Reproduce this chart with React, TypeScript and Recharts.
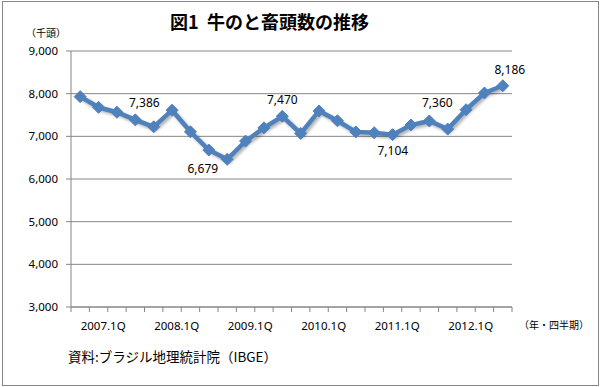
import React from "react";
import {
  ComposedChart,
  Line,
  XAxis,
  YAxis,
  CartesianGrid,
  LabelList,
} from "recharts";

const QUARTERS = [
  "2007.1Q", "2007.2Q", "2007.3Q", "2007.4Q",
  "2008.1Q", "2008.2Q", "2008.3Q", "2008.4Q",
  "2009.1Q", "2009.2Q", "2009.3Q", "2009.4Q",
  "2010.1Q", "2010.2Q", "2010.3Q", "2010.4Q",
  "2011.1Q", "2011.2Q", "2011.3Q", "2011.4Q",
  "2012.1Q", "2012.2Q", "2012.3Q", "2012.4Q",
];

// 牛のと畜頭数（千頭）
const HEAD_COUNT = [
  7930, 7680, 7565, 7386,
  7223, 7613, 7106, 6679,
  6460, 6888, 7199, 7470,
  7068, 7595, 7365, 7104,
  7085, 7040, 7265, 7360,
  7170, 7624, 8016, 8186,
];

const LABELED_QUARTERS = ["2007.4Q", "2008.4Q", "2009.4Q", "2010.4Q", "2011.4Q", "2012.4Q"];
const X_TICK_LABELS = ["2007.1Q", "2008.1Q", "2009.1Q", "2010.1Q", "2011.1Q", "2012.1Q"];
const Y_TICKS = [3000, 4000, 5000, 6000, 7000, 8000, 9000];

const data = QUARTERS.map((q, i) => ({ q, value: HEAD_COUNT[i] }));

const W = 602;
const H = 387;
const MARGIN = { top: 51, right: 90, bottom: 50, left: 11 };
const Y_AXIS_W = 60;
const X_AXIS_H = 30;
const PLOT_W = W - MARGIN.left - Y_AXIS_W - MARGIN.right;
const PLOT_BOTTOM = H - MARGIN.bottom - X_AXIS_H;
const STEP = PLOT_W / QUARTERS.length;

const BLUE = "#4F81BD";
const AXIS_GRAY = "#868686";
const FONT = "'Noto Sans', 'Noto Sans CJK JP', sans-serif";
const JP_FONT = "'Noto Sans CJK JP', sans-serif";

// where each data label sits relative to its point
const LABEL_OFFSET: Record<string, [number, number]> = {
  "2007.4Q": [9, -17],
  "2008.4Q": [-6, 18],
  "2009.4Q": [0, -17],
  "2010.4Q": [37, 19],
  "2011.4Q": [8, -18],
  "2012.4Q": [7, -16],
};

const XTick = (props: any) => {
  const { x, payload } = props;
  const idx = QUARTERS.indexOf(payload.value);
  const left = x - STEP / 2;
  return (
    <g>
      <line x1={left} x2={left} y1={PLOT_BOTTOM} y2={PLOT_BOTTOM + 5} stroke={AXIS_GRAY} />
      {idx === QUARTERS.length - 1 && (
        <line x1={x + STEP / 2} x2={x + STEP / 2} y1={PLOT_BOTTOM} y2={PLOT_BOTTOM + 5} stroke={AXIS_GRAY} />
      )}
      {X_TICK_LABELS.includes(payload.value) && (
        <text
          x={x + 23}
          y={PLOT_BOTTOM + 18}
          textAnchor="middle"
          dominantBaseline="central"
          fontSize={11.5}
          fontFamily={FONT}
          fill="#000"
        >
          {payload.value}
        </text>
      )}
    </g>
  );
};

const Diamond = (props: any) => {
  const { cx, cy, index } = props;
  if (cx == null || cy == null) return <g key={index} />;
  const r = 6;
  return (
    <polygon
      key={index}
      points={`${cx},${cy - r} ${cx + r},${cy} ${cx},${cy + r} ${cx - r},${cy}`}
      fill={BLUE}
      stroke={BLUE}
    />
  );
};

const PointLabel = (props: any) => {
  const { x, y, value, index } = props;
  const q = QUARTERS[index];
  if (!LABELED_QUARTERS.includes(q)) return null;
  const [dx, dy] = LABEL_OFFSET[q] || [0, -16];
  return (
    <text
      x={x + dx}
      y={y + dy}
      textAnchor="middle"
      dominantBaseline="central"
      fontSize={12}
      fontFamily={FONT}
      fill="#000"
    >
      {Number(value).toLocaleString("en-US")}
    </text>
  );
};

export default function App() {
  return (
    <div
      style={{
        position: "fixed",
        left: 0,
        top: 0,
        width: W,
        height: H,
        background: "#fff",
        fontFamily: JP_FONT,
      }}
    >
      <style>{`.recharts-line { filter: drop-shadow(2px 2px 1.5px rgba(0,0,0,0.3)); }`}</style>
      <div
        style={{
          position: "absolute",
          left: 2,
          top: 1,
          width: 595,
          height: 383,
          border: `1px solid ${AXIS_GRAY}`,
        }}
      />
      <div
        style={{
          position: "absolute",
          left: 0,
          width: 539,
          top: 8,
          textAlign: "center",
          fontSize: 18,
          fontWeight: 700,
          lineHeight: "26px",
          color: "#000",
        }}
      >
        図1&nbsp;&nbsp;牛のと畜頭数の推移
      </div>
      <div style={{ position: "absolute", left: 26, top: 26, fontSize: 10, lineHeight: "14px" }}>
        （千頭）
      </div>
      <div style={{ position: "absolute", left: 519, top: 318, fontSize: 10, lineHeight: "14px" }}>
        （年・四半期）
      </div>
      <div style={{ position: "absolute", left: 68, top: 346, fontSize: 13.5, lineHeight: "20px" }}>
        資料:ブラジル地理統計院（IBGE）
      </div>
      <ComposedChart width={W} height={H} data={data} margin={MARGIN}>
        <CartesianGrid vertical={false} stroke={AXIS_GRAY} />
        <XAxis
          dataKey="q"
          scale="band"
          interval={0}
          height={X_AXIS_H}
          axisLine={{ stroke: AXIS_GRAY }}
          tickLine={false}
          tick={<XTick />}
        />
        <YAxis
          width={Y_AXIS_W}
          domain={[3000, 9000]}
          ticks={Y_TICKS}
          interval={0}
          axisLine={{ stroke: AXIS_GRAY }}
          tickLine={{ stroke: AXIS_GRAY }}
          tickSize={5}
          tickMargin={8}
          tickFormatter={(v: number) => v.toLocaleString("en-US")}
          tick={{ fill: "#000", fontSize: 11.5, fontFamily: FONT }}
        />
        <Line
          dataKey="value"
          stroke={BLUE}
          strokeWidth={4.5}
          dot={<Diamond />}
          activeDot={false}
          isAnimationActive={false}
        >
          <LabelList dataKey="value" content={<PointLabel />} />
        </Line>
      </ComposedChart>
    </div>
  );
}
